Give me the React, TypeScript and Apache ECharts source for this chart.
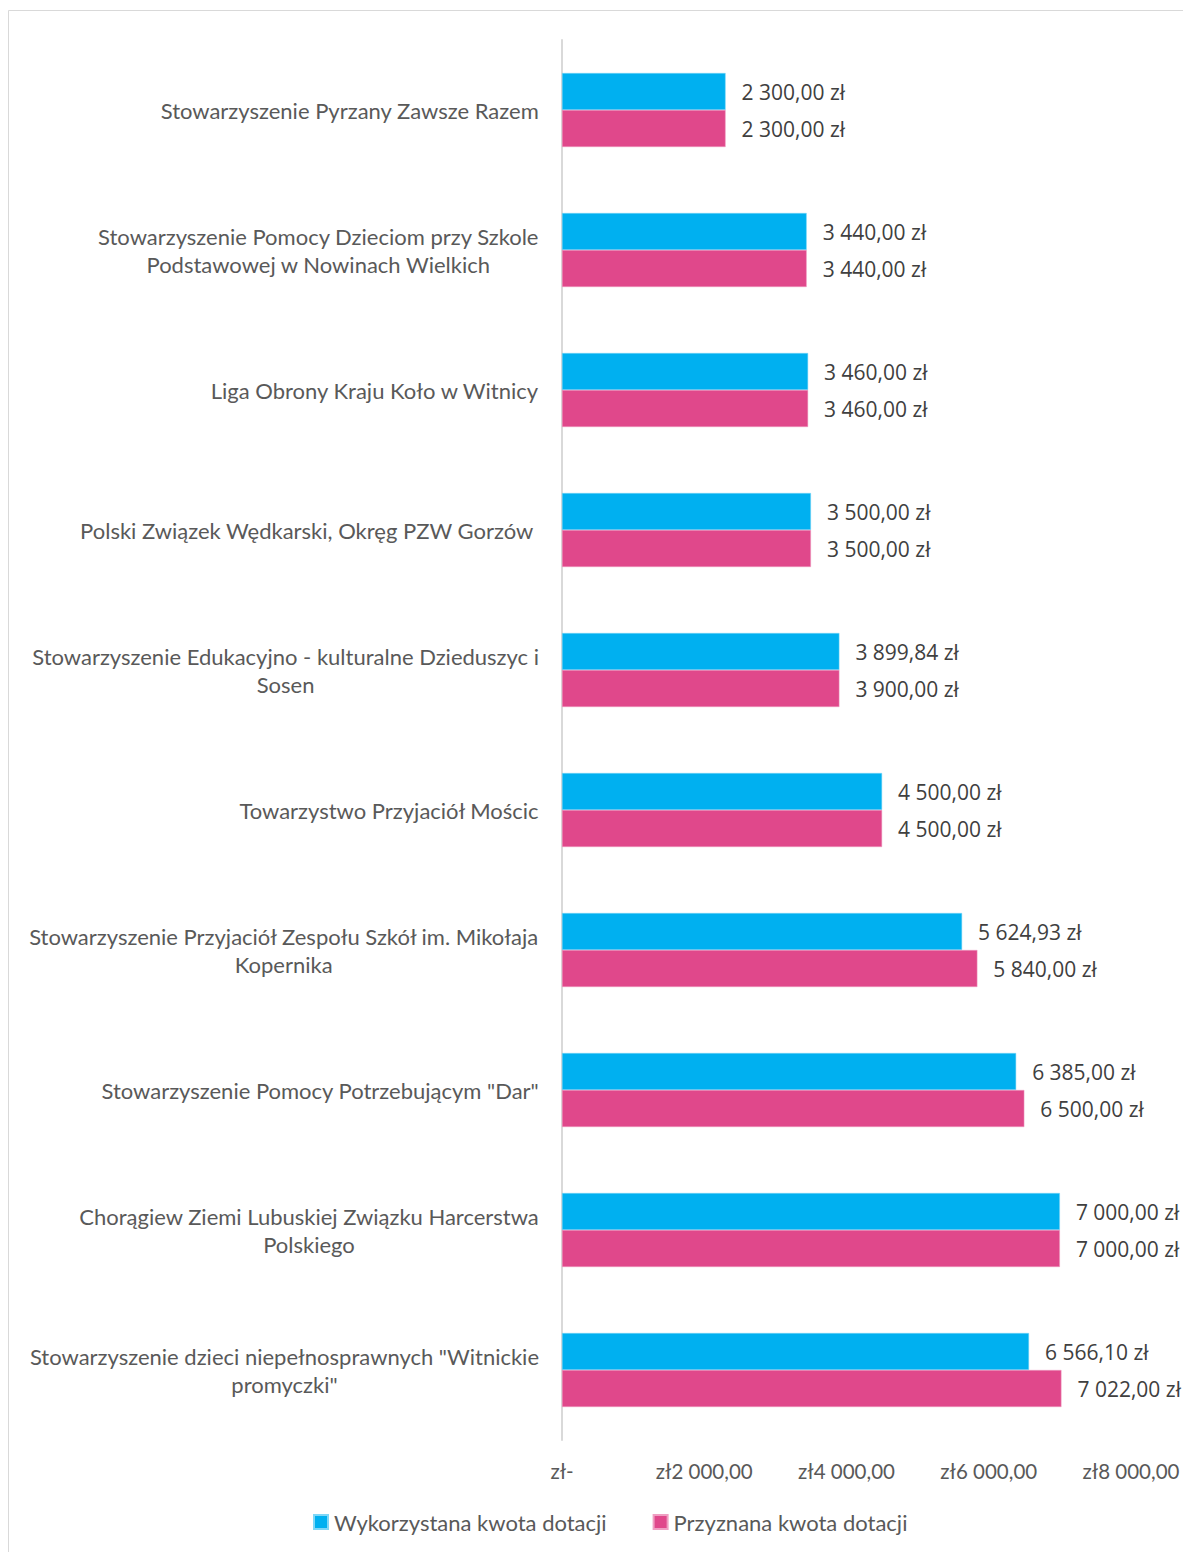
import React, { useEffect, useRef } from "react";
import * as echarts from "echarts";

const categories: string[] = [
  "Stowarzyszenie Pyrzany Zawsze Razem",
  "Stowarzyszenie Pomocy Dzieciom przy Szkole\nPodstawowej w Nowinach Wielkich",
  "Liga Obrony Kraju Koło w Witnicy",
  "Polski Związek Wędkarski, Okręg PZW Gorzów ",
  "Stowarzyszenie Edukacyjno - kulturalne Dzieduszyc i\nSosen",
  "Towarzystwo Przyjaciół Mościc",
  "Stowarzyszenie Przyjaciół Zespołu Szkół im. Mikołaja\nKopernika",
  "Stowarzyszenie Pomocy Potrzebującym \"Dar\"",
  "Chorągiew Ziemi Lubuskiej Związku Harcerstwa\nPolskiego",
  "Stowarzyszenie dzieci niepełnosprawnych \"Witnickie\npromyczki\"",
];

const seriesNames: string[] = ["Wykorzystana kwota dotacji", "Przyznana kwota dotacji"];

const usedValues: number[] = [2300, 3440, 3460, 3500, 3899.84, 4500, 5624.93, 6385, 7000, 6566.1];
const grantedValues: number[] = [2300, 3440, 3460, 3500, 3900, 4500, 5840, 6500, 7000, 7022];

const axisMin = 0;
const axisMax = 8000;
const axisInterval = 2000;

function groupThousands(intPart: string): string {
  let out = "";
  for (let i = 0; i < intPart.length; i++) {
    const fromEnd = intPart.length - i;
    out += intPart[i];
    if (fromEnd > 1 && (fromEnd - 1) % 3 === 0) out += " ";
  }
  return out;
}

function formatPLN(v: number): string {
  const fixed = v.toFixed(2);
  const [i, d] = fixed.split(".");
  return groupThousands(i) + "," + d;
}

const CAT_FONT = "Lato, 'Open Sans', sans-serif";
const VAL_FONT = "'Open Sans', 'Noto Sans', sans-serif";

export default function App() {
  const ref = useRef<HTMLDivElement>(null);

  useEffect(() => {
    if (!ref.current) return;
    const chart = echarts.init(ref.current, undefined, { renderer: "svg" });
    chart.setOption({
      animation: false,
      backgroundColor: "#ffffff",
      graphic: [
        {
          type: "rect",
          shape: { x: 0.5, y: 2.5, width: 1181, height: 1560 },
          style: { fill: "none", stroke: "#d9d9d9", lineWidth: 1 },
          silent: true,
        },
      ],
      grid: { left: 554, right: 60, top: 32, bottom: 112, containLabel: false },
      legend: {
        bottom: 14,
        left: 300,
        itemWidth: 14,
        itemHeight: 14,
        itemGap: 46,
        icon: "rect",
        textStyle: { fontFamily: CAT_FONT, fontSize: 22, color: "#595959", padding: [0, 0, 0, 1] },
        data: seriesNames,
      },
      xAxis: {
        type: "value",
        min: axisMin,
        max: axisMax,
        interval: axisInterval,
        axisLine: { show: false },
        axisTick: { show: false },
        splitLine: { show: false },
        axisLabel: {
          margin: 20,
          fontFamily: CAT_FONT,
          fontSize: 20.5,
          color: "#595959",
          formatter: (v: number) => (v === 0 ? "zł-" : "zł" + formatPLN(v)),
        },
      },
      yAxis: {
        type: "category",
        inverse: true,
        data: categories,
        axisLine: { show: true, lineStyle: { color: "#d9d9d9", width: 2 } },
        axisTick: { show: false },
        splitLine: { show: false },
        axisLabel: {
          margin: 23,
          fontFamily: CAT_FONT,
          fontSize: 22,
          color: "#595959",
          lineHeight: 28,
          formatter: (v: string) =>
            v
              .split("\n")
              .map((line) => "{c|" + line + "}")
              .join("\n"),
          rich: {
            c: { align: "center", fontFamily: CAT_FONT, fontSize: 22, color: "#595959", lineHeight: 28 },
          },
        },
      },
      series: [
        {
          name: seriesNames[0],
          type: "bar",
          data: usedValues,
          barWidth: 37,
          barGap: "0%",
          itemStyle: { color: "#00B0F0", borderColor: "#7fd7f7", borderWidth: 0.5 },
          label: {
            show: true,
            position: "right",
            distance: 16,
            fontFamily: VAL_FONT,
            fontSize: 21,
            color: "#404040",
            formatter: (p: any) => formatPLN(p.value) + " zł",
          },
        },
        {
          name: seriesNames[1],
          type: "bar",
          data: grantedValues,
          barWidth: 37,
          barGap: "0%",
          itemStyle: { color: "#E0488B", borderColor: "#ef9fc2", borderWidth: 0.5 },
          label: {
            show: true,
            position: "right",
            distance: 16,
            fontFamily: VAL_FONT,
            fontSize: 21,
            color: "#404040",
            formatter: (p: any) => formatPLN(p.value) + " zł",
          },
        },
      ],
    });
    return () => chart.dispose();
  }, []);

  return <div ref={ref} style={{ width: 1183, height: 1544 }} />;
}
